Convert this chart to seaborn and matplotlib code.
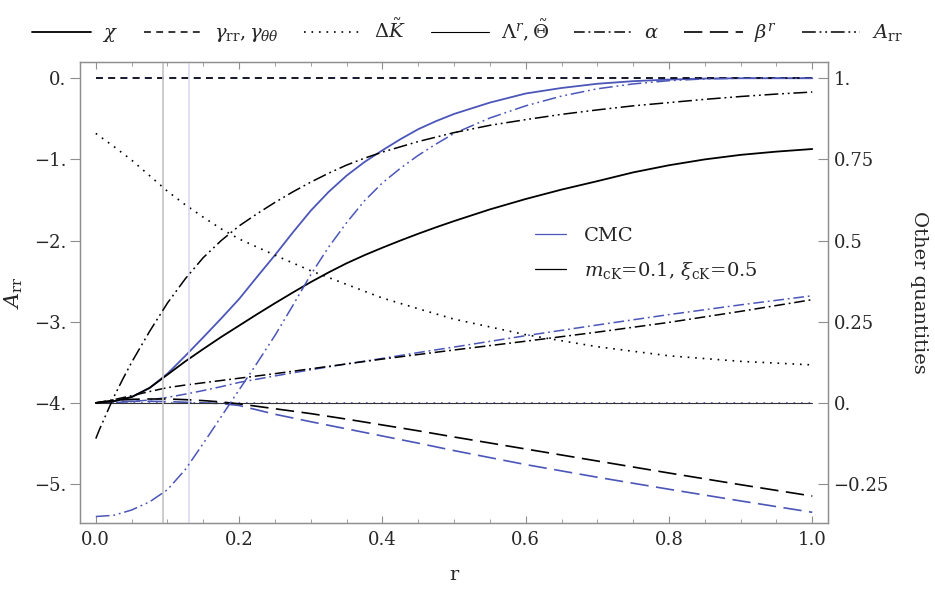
import matplotlib
matplotlib.use("Agg")
import matplotlib.pyplot as plt
from matplotlib.lines import Line2D
from matplotlib.ticker import MultipleLocator, FixedLocator, FixedFormatter
import seaborn as sns

# coarse radial grid for the gently varying curves
r = [0, 0.025, 0.05, 0.075, 0.1, 0.125, 0.15, 0.175, 0.2, 0.25, 0.3,
     0.35, 0.4, 0.45, 0.5, 0.6, 0.7, 0.8, 0.9, 1.0]
# finer grid for the steep ones
r_fine = [0, 0.025, 0.05, 0.075, 0.1, 0.125, 0.15, 0.175, 0.2, 0.225, 0.25,
          0.275, 0.3, 0.325, 0.35, 0.375, 0.4, 0.425, 0.45, 0.475, 0.5,
          0.55, 0.6, 0.65, 0.7, 0.75, 0.8, 0.85, 0.9, 0.95, 1.0]

# "other quantities" (right axis)
chi_ck = [0, 0.005, 0.018, 0.046, 0.087, 0.128, 0.166, 0.203, 0.238, 0.273, 0.307,
          0.34, 0.372, 0.402, 0.43, 0.455, 0.478, 0.5, 0.521, 0.541, 0.56,
          0.596, 0.628, 0.657, 0.683, 0.71, 0.732, 0.75, 0.764, 0.774, 0.782]
chi_cmc = [0, 0.005, 0.018, 0.046, 0.09, 0.145, 0.202, 0.26, 0.32, 0.388, 0.455,
           0.525, 0.592, 0.65, 0.70, 0.742, 0.778, 0.812, 0.843, 0.868, 0.89,
           0.925, 0.953, 0.97, 0.983, 0.991, 0.996, 0.999, 1.0, 1.0, 1.0]
dK_ck = [0.83, 0.79, 0.748, 0.70, 0.652, 0.61, 0.572, 0.536, 0.505, 0.455,
         0.407, 0.365, 0.323, 0.29, 0.258, 0.21, 0.173, 0.145, 0.128, 0.117]
alpha_ck = [0, 0.01, 0.022, 0.035, 0.047, 0.055, 0.062, 0.069, 0.076, 0.09,
            0.105, 0.12, 0.135, 0.149, 0.163, 0.19, 0.218, 0.248, 0.282, 0.318]
alpha_cmc = [0, 0.001, 0.004, 0.009, 0.017, 0.027, 0.038, 0.05, 0.063, 0.083,
             0.102, 0.12, 0.137, 0.155, 0.172, 0.207, 0.24, 0.272, 0.302, 0.33]
beta_ck = [0, 0.008, 0.011, 0.012, 0.012, 0.01, 0.007, 0.003, -0.003, -0.018,
           -0.033, -0.05, -0.068, -0.086, -0.105, -0.142, -0.179, -0.216, -0.252, -0.287]
beta_cmc = [0, 0.003, 0.005, 0.005, 0.004, 0.002, 0.0, -0.002, -0.008, -0.035,
            -0.058, -0.08, -0.102, -0.124, -0.147, -0.19, -0.229, -0.266, -0.302, -0.337]
r_ends = [0, 1.0]
gamma_const = [1.0, 1.0]
zero_const = [0.0, 0.0]

# A_rr (left axis)
r_arr_ck = [0, 0.005, 0.0125, 0.025, 0.0375, 0.05, 0.075, 0.1, 0.125, 0.15, 0.175,
            0.2, 0.225, 0.25, 0.275, 0.3, 0.325, 0.35, 0.375, 0.4, 0.45, 0.5,
            0.55, 0.6, 0.65, 0.7, 0.75, 0.8, 0.85, 0.9, 0.95, 1.0]
arr_ck = [-4.44, -4.33, -4.18, -3.93, -3.71, -3.50, -3.12, -2.77, -2.47, -2.21, -2.0,
          -1.82, -1.67, -1.53, -1.40, -1.28, -1.17, -1.07, -0.985, -0.91, -0.78, -0.67,
          -0.58, -0.51, -0.445, -0.39, -0.34, -0.30, -0.26, -0.225, -0.195, -0.17]
arr_cmc = [-5.40, -5.385, -5.32, -5.22, -5.07, -4.82, -4.50, -4.17, -3.84, -3.51, -3.17,
           -2.80, -2.42, -2.08, -1.78, -1.51, -1.29, -1.11, -0.95, -0.81, -0.68,
           -0.49, -0.34, -0.22, -0.13, -0.07, -0.03, -0.008, 0.0, 0.0, 0.0]

# horizon-like markers
r_mark_ck = 0.094
r_mark_cmc = 0.130

BLUE = "#4b56b8"
BLACK = "black"
GRID = "#8f8f8f"

styles = {
    "chi": ("-", 1.3),
    "gamma": ((0, (4.5, 3.5)), 1.1),
    "dK": ((0, (1.0, 3.5)), 1.2),
    "lam": ("-", 0.8),
    "alpha": ((0, (7, 2.5, 1.2, 2.5)), 1.1),
    "beta": ((0, (11, 4.5)), 1.2),
    "arr": ((0, (9, 2.5, 1.2, 2.5, 1.2, 2.5)), 1.1),
}

sns.set_style("white")
plt.rcParams["font.family"] = ["DejaVu Serif"]
plt.rcParams["mathtext.fontset"] = "dejavuserif"

fig, ax = plt.subplots(figsize=(9.35, 5.98), dpi=100)
fig.subplots_adjust(left=0.0856, right=0.8856, top=0.8963, bottom=0.1254)
ax2 = ax.twinx()

lo, hi = -5.48, 0.2
ax.set_ylim(lo, hi)
ax2.set_ylim((lo + 4) / 4, (hi + 4) / 4)
ax.set_xlim(-0.022, 1.022)

ax.axvline(r_mark_ck, color="#c4c4c4", lw=1.2, zorder=0)
ax.axvline(r_mark_cmc, color="#dadaee", lw=1.2, zorder=0)


def draw(axis, x, y, color, key):
    ls, lw = styles[key]
    sns.lineplot(x=x, y=y, ax=axis, color=color, linestyle=ls,
                 linewidth=lw, estimator=None, sort=False)


# blue (CMC) first, black on top
draw(ax2, r_ends, gamma_const, BLUE, "gamma")
draw(ax2, r_ends, zero_const, BLUE, "dK")
draw(ax2, r_fine, chi_cmc, BLUE, "chi")
draw(ax2, r, alpha_cmc, BLUE, "alpha")
draw(ax2, r, beta_cmc, BLUE, "beta")
draw(ax2, r_ends, zero_const, "#333333", "lam")
draw(ax2, r_ends, gamma_const, BLACK, "gamma")
draw(ax2, r_fine, chi_ck, BLACK, "chi")
draw(ax2, r, dK_ck, BLACK, "dK")
draw(ax2, r, alpha_ck, BLACK, "alpha")
draw(ax2, r, beta_ck, BLACK, "beta")
draw(ax, r_fine, arr_cmc, BLUE, "arr")
draw(ax, r_arr_ck, arr_ck, BLACK, "arr")
ax.set_zorder(ax2.get_zorder() + 1)
ax.patch.set_visible(False)

# ticks
ax.xaxis.set_minor_locator(MultipleLocator(0.05))
ax.set_xticks([0, 0.2, 0.4, 0.6, 0.8, 1.0])
ax.set_xticklabels(["0.0", "0.2", "0.4", "0.6", "0.8", "1.0"])
ax.yaxis.set_major_locator(FixedLocator([0, -1, -2, -3, -4, -5]))
ax.yaxis.set_major_formatter(FixedFormatter(["0.", "\u22121.", "\u22122.", "\u22123.", "\u22124.", "\u22125."]))
ax2.yaxis.set_major_locator(FixedLocator([1, 0.75, 0.5, 0.25, 0, -0.25]))
ax2.yaxis.set_major_formatter(FixedFormatter(["1.", "0.75", "0.5", "0.25", "0.", "\u22120.25"]))

ax.tick_params(axis="x", which="major", direction="in", top=True, bottom=True,
               length=5, width=0.8, color=GRID, labelsize=13, pad=6)
ax.tick_params(axis="x", which="minor", direction="in", top=True, bottom=True,
               length=3, width=0.6, color=GRID)
ax.tick_params(axis="y", which="major", direction="out", left=True, right=False,
               length=7, width=0.8, color=GRID, labelsize=13, pad=3)
ax2.tick_params(axis="y", which="major", direction="in", right=True,
                length=7, width=0.8, color=GRID, labelsize=13, pad=4)

for a in (ax, ax2):
    for s in a.spines.values():
        s.set_color(GRID)
        s.set_linewidth(0.9)

ax.set_xlabel("r", fontsize=14, labelpad=12)
ax.set_ylabel(r"$A_{\rm rr}$", fontsize=15, labelpad=6)
ax2.set_ylabel("Other quantities", fontsize=14, rotation=-90, labelpad=28)

# legend for the datasets (inside)
inner = [Line2D([], [], color=BLUE, lw=0.9), Line2D([], [], color=BLACK, lw=0.9)]
ax.legend(inner, ["CMC", r"$m_{\rm cK}$=0.1, $\xi_{\rm cK}$=0.5"],
          loc="upper left", bbox_to_anchor=(0.585, 0.68), frameon=False,
          fontsize=14, handlelength=1.6, labelspacing=0.75, handletextpad=0.9)

# legend for the quantities (top)
top_handles = []
for key in ["chi", "gamma", "dK", "lam", "alpha", "beta", "arr"]:
    ls, lw = styles[key]
    top_handles.append(Line2D([], [], color=BLACK, linestyle=ls, lw=lw))
top_labels = [r"$\chi$", r"$\gamma_{\rm rr}, \gamma_{\theta\theta}$", r"$\Delta\tilde{K}$",
              r"$\Lambda^r, \tilde{\Theta}$", r"$\alpha$", r"$\beta^r$", r"$A_{\rm rr}$"]
fig.legend(top_handles, top_labels, loc="upper center", bbox_to_anchor=(0.5, 1.0),
           ncol=7, frameon=False, fontsize=14, handlelength=3.0,
           columnspacing=1.3, handletextpad=0.6)

fig.savefig("out.png", dpi=100)
